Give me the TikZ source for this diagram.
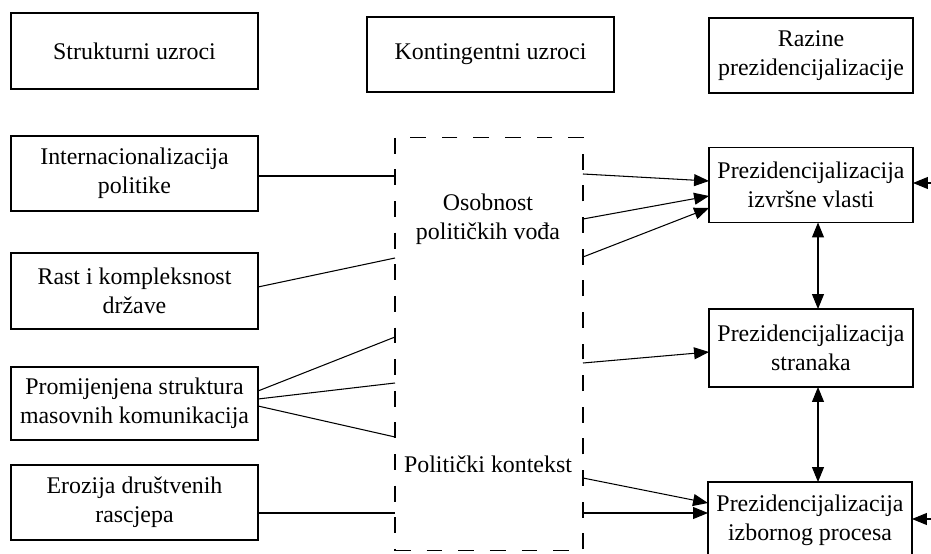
\documentclass[tikz,border=0pt]{standalone}
\usepackage{fontspec}
\setmainfont{Liberation Serif}
\usetikzlibrary{arrows.meta}

\begin{document}
\begin{tikzpicture}[
		x=0.02cm,
		y=-0.02cm,
		line width=0.6pt,
		font=\fontsize{13.6}{16.5}\selectfont,
		causebox/.style={draw, align=center, inner sep=0pt, outer sep=0pt, minimum width=4.94cm, minimum height=1.5cm},
		levelbox/.style={draw, align=center, inner sep=0pt, outer sep=0pt, minimum width=4.08cm, minimum height=1.5cm},
		arr/.style={-{Triangle[length=8.5pt,width=6.8pt]}},
		dbl/.style={{Triangle[length=8.5pt,width=6.8pt]}-{Triangle[length=8.5pt,width=6.8pt]}}
	]

		\useasboundingbox (0,0) rectangle (931,554);

		% headings
		\node[causebox, minimum height=1.52cm] (struk) at (134.5,51) {Strukturni uzroci};
		\node[causebox] (kontin) at (490.5,54.5) {Kontingentni uzroci};
		\node[levelbox] (razine) at (811,55.5) {Razine\\prezidencijalizacije};

		% structural causes
		\node[causebox] (intern) at (134.5,173.5) {Internacionalizacija\\politike};
		\node[causebox, minimum height=1.52cm] (rast) at (134.5,291) {Rast i kompleksnost\\države};
		\node[causebox, minimum height=1.46cm] (promj) at (134.5,403.5) {Promijenjena struktura\\masovnih komunikacija};
		\node[causebox] (eroz) at (134.5,502.5) {Erozija društvenih\\rascjepa};

		% contingent causes
		\node[draw, dash pattern=on 9pt off 9pt, inner sep=0pt, outer sep=0pt, minimum width=3.76cm, minimum height=8.28cm] (kont) at (489,344) {};
		\node (osob) at (488,219) [align=center] {Osobnost\\političkih vođa};
		\node (kontekst) at (488,464) {Politički kontekst};

		% levels
		\node[levelbox] (vlast) at (811,185) {Prezidencijalizacija\\izvršne vlasti};
		\node[levelbox, minimum height=1.56cm] (stranke) at (811,348) {Prezidencijalizacija\\stranaka};
		\node[levelbox, minimum height=1.52cm] (izbor) at (810,520) {Prezidencijalizacija\\izbornog procesa};

		% structural -> contingent
		\draw (intern.east |- 0,176) -- (kont.west |- 0,176);
		\draw (rast.east |- 0,287) -- (kont.west |- 0,258);
		\draw (promj.east |- 0,391) -- (kont.west |- 0,337);
		\draw (promj.east |- 0,399) -- (kont.west |- 0,383);
		\draw (promj.east |- 0,406) -- (kont.west |- 0,437);
		\draw (eroz.east |- 0,513) -- (kont.west |- 0,513);

		% contingent -> levels
		\draw[arr] (kont.east |- 0,174) -- (vlast.west |- 0,181);
		\draw[arr] (kont.east |- 0,219) -- (vlast.west |- 0,196);
		\draw[arr] (kont.east |- 0,257) -- (vlast.west |- 0,208);
		\draw[arr] (kont.east |- 0,363) -- (stranke.west |- 0,352);
		\draw[arr] (kont.east |- 0,478) -- (izbor.west |- 0,503);
		\draw[arr] (kont.east |- 0,513) -- (izbor.west |- 0,513);

		% between levels
		\draw[dbl] (vlast.south -| 818,0) -- (stranke.north -| 818,0);
		\draw[dbl] (stranke.south -| 818,0) -- (izbor.north -| 818,0);

		% from the right edge
		\coordinate (in1) at (945,183);
		\coordinate (in2) at (945,519);
		\draw[arr] (in1) -- (vlast.east |- in1);
		\draw[arr] (in2) -- (izbor.east |- in2);

	\end{tikzpicture}
\end{document}
